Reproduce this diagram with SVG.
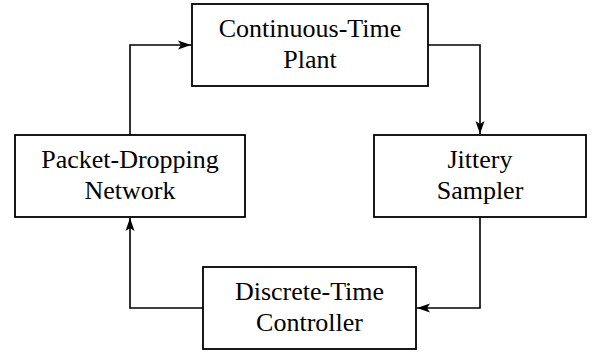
<svg xmlns="http://www.w3.org/2000/svg" width="595" height="354" viewBox="0 0 595 354">
  <defs>
    <marker id="arr" viewBox="0 0 13 10" refX="13" refY="5" markerWidth="13" markerHeight="10" markerUnits="userSpaceOnUse" orient="auto">
      <path d="M0,0.5 L13,5 L0,9.5 L3,5 z" fill="#000"/>
    </marker>
  </defs>
  <style>
    .box { fill: #fff; stroke: #000; stroke-width: 1.8; }
    .lbl { font-size: 26px; fill: #000; text-anchor: middle; }
    .wire { fill: none; stroke: #000; stroke-width: 1.6; }
  </style>
  <rect width="595" height="354" fill="#fff"/>
  <g id="connectors">
    <polyline class="wire" points="130,135 130,45 191,45" marker-end="url(#arr)"/>
    <polyline class="wire" points="428,45 480,45 480,134" marker-end="url(#arr)"/>
    <polyline class="wire" points="480,217 480,308 417,308" marker-end="url(#arr)"/>
    <polyline class="wire" points="203,308 130,308 130,218" marker-end="url(#arr)"/>
  </g>
  <g font-family="'Liberation Serif', 'DejaVu Serif', serif">
  <g id="plant">
    <rect class="box" x="192" y="4" width="236" height="82"/>
    <text class="lbl" x="310" y="36.7">Continuous-Time</text>
    <text class="lbl" x="310" y="68.3">Plant</text>
  </g>
  <g id="network">
    <rect class="box" x="15" y="135" width="230" height="82"/>
    <text class="lbl" x="130" y="167.7">Packet-Dropping</text>
    <text class="lbl" x="130" y="199.3">Network</text>
  </g>
  <g id="sampler">
    <rect class="box" x="374" y="135" width="212" height="82"/>
    <text class="lbl" x="480" y="167.7">Jittery</text>
    <text class="lbl" x="480" y="199.3">Sampler</text>
  </g>
  <g id="controller">
    <rect class="box" x="203" y="267" width="213" height="82"/>
    <text class="lbl" x="309.5" y="299.7">Discrete-Time</text>
    <text class="lbl" x="309.5" y="331.3">Controller</text>
  </g>
  </g>
</svg>
